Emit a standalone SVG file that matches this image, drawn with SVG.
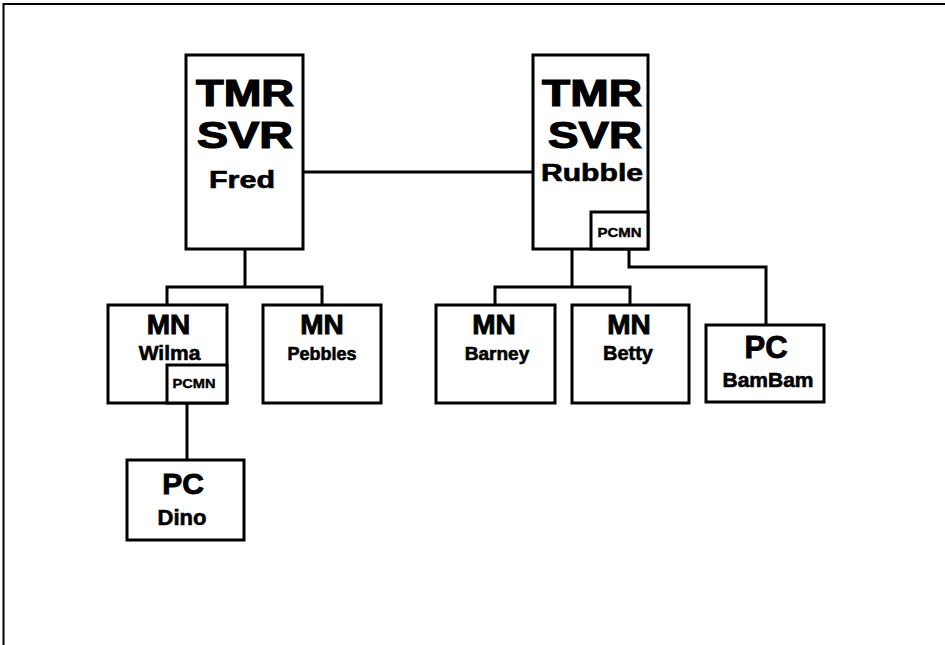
<svg xmlns="http://www.w3.org/2000/svg" width="945" height="645" viewBox="0 0 945 645">
<style>
.box{fill:#fff;stroke:#000;stroke-width:3}
.ln{fill:none;stroke:#000;stroke-width:3}
text{font-family:"Liberation Sans",Arial,sans-serif;font-weight:bold;fill:#000;text-anchor:middle;stroke:#000;stroke-width:0.6}
.big{font-size:36px;stroke-width:1.2}
.mid{font-size:28px;stroke-width:0.9}
.nm{font-size:21px}
.sm{font-size:13px;stroke-width:0.4}
</style>
<rect width="945" height="645" fill="#fff" stroke="none"/>
<path d="M3.5 645 V4 H945" fill="none" stroke="#000" stroke-width="2"/>
<g id="connectors">
<path class="ln" d="M303 172 H533"/>
<path class="ln" d="M245 249 V287 M167 305 V287 H322 V305"/>
<path class="ln" d="M572 249 V287 M495 305 V287 H630 V305"/>
<path class="ln" d="M629 249 V267 H766 V325"/>
<path class="ln" d="M187 403 V460"/>
</g>
<g id="fred">
<rect class="box" x="186" y="55" width="117" height="194"/>
<text class="big" x="245" y="106" textLength="98" lengthAdjust="spacingAndGlyphs">TMR</text>
<text class="big" x="245" y="148" textLength="96" lengthAdjust="spacingAndGlyphs">SVR</text>
<text class="nm" x="242" y="188" style="font-size:23px" textLength="66" lengthAdjust="spacingAndGlyphs">Fred</text>
</g>
<g id="rubble">
<rect class="box" x="533" y="55" width="115" height="194"/>
<text class="big" x="592" y="106" textLength="100" lengthAdjust="spacingAndGlyphs">TMR</text>
<text class="big" x="595" y="148" textLength="94" lengthAdjust="spacingAndGlyphs">SVR</text>
<text class="nm" x="592" y="181" style="font-size:23px" textLength="102" lengthAdjust="spacingAndGlyphs">Rubble</text>
<rect class="box" x="591" y="212" width="57" height="37"/>
<text class="sm" x="619.5" y="237" textLength="44" lengthAdjust="spacingAndGlyphs">PCMN</text>
</g>
<g id="wilma">
<rect class="box" x="108" y="305" width="119" height="98"/>
<text class="mid" x="168.5" y="334">MN</text>
<text class="nm" x="169.5" y="360">Wilma</text>
<rect class="box" x="167" y="365" width="60" height="38"/>
<text class="sm" x="194" y="388" textLength="43" lengthAdjust="spacingAndGlyphs">PCMN</text>
</g>
<g id="pebbles">
<rect class="box" x="263" y="305" width="118" height="98"/>
<text class="mid" x="322" y="334">MN</text>
<text class="nm" x="322" y="360" style="font-size:18px">Pebbles</text>
</g>
<g id="barney">
<rect class="box" x="436" y="305" width="119" height="98"/>
<text class="mid" x="494" y="334">MN</text>
<text class="nm" x="497" y="360" style="font-size:19px">Barney</text>
</g>
<g id="betty">
<rect class="box" x="572" y="305" width="117" height="98"/>
<text class="mid" x="629" y="334">MN</text>
<text class="nm" x="628" y="360" style="font-size:20px">Betty</text>
</g>
<g id="bambam">
<rect class="box" x="706" y="325" width="118" height="77"/>
<text class="mid" x="766" y="358" style="font-size:31px">PC</text>
<text class="nm" x="768" y="387">BamBam</text>
</g>
<g id="dino">
<rect class="box" x="127" y="460" width="117" height="80"/>
<text class="mid" x="183" y="494" style="font-size:30px">PC</text>
<text class="nm" x="182" y="525" style="font-size:22px">Dino</text>
</g>
</svg>
